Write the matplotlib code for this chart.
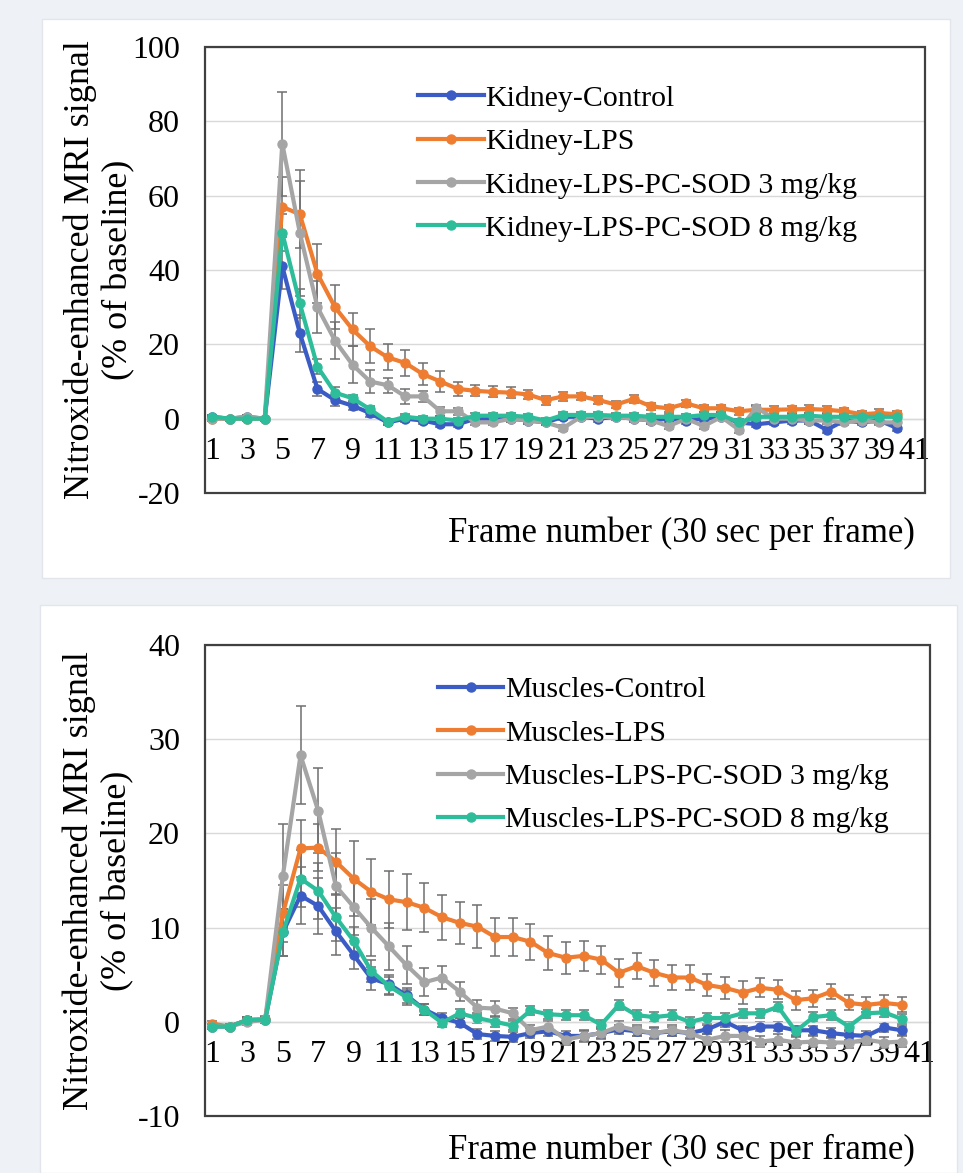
import numpy as np
import matplotlib
matplotlib.use("Agg")
import matplotlib.pyplot as plt
from matplotlib.patches import Rectangle

plt.rcParams['font.family'] = ['Liberation Serif', 'DejaVu Serif']
plt.rcParams['axes.unicode_minus'] = False

frames = list(range(1, 41))

# Kidney panel (% of baseline), one value per frame
kidney_names = ['Kidney-Control', 'Kidney-LPS', 'Kidney-LPS-PC-SOD 3 mg/kg', 'Kidney-LPS-PC-SOD 8 mg/kg']
k_ctrl = [0.5, 0, 0.5, 0, 41, 23, 8, 5, 3.5, 1.5, -1, 0, -0.5, -1.5, -1.5, 0, 0, 0, -0.5, -1,
          0.5, 0.5, 0, 0.5, 0, -0.5, 0, -0.5, 0, 0.5, -1, -1.5, -1, -0.5, -0.5, -3, -0.5, -1, -0.5, -2.5]
k_lps = [0, 0, 0, 0, 57, 55, 39, 30, 24, 19.5, 16.5, 15, 12, 10, 8, 7.5, 7.2, 7, 6.5, 5,
         6, 6, 5, 3.8, 5.3, 3.3, 2.8, 4.1, 2.8, 2.8, 2, 2.4, 2.4, 2.5, 2.6, 2.4, 2, 1.2, 1.5, 1.2]
k_pc3 = [0, 0, 0.5, 0, 74, 50, 30, 21, 14.5, 10, 9, 6, 6, 2, 2, -1, -1, 0, -0.5, -1,
         -2.5, 0.5, 0.5, 0.5, 0, -0.5, -2, 0, -2, 0.5, -3, 3, 0, 0, -0.5, -0.5, -1, -0.5, -1, -1]
k_pc8 = [0.5, 0, 0, 0, 50, 31, 14, 7, 5.5, 2.5, -0.8, 0.5, 0, 0, -0.5, 0.8, 0.8, 0.8, 0.5, -0.5,
         1, 1, 1, 0.8, 0.8, 0.5, 0.5, 0.5, 1, 1, -1, 0.5, 0.5, 0.5, 0.8, 0.5, 0.5, 0.5, 0.5, 0.5]
k_ctrl_err = [0.5, 0.5, 0.5, 0.5, 6, 5, 2, 1.5, 1.2, 1, 0.8, 0.8, 0.8, 0.8, 0.8, 0.8, 0.8, 0.8, 0.8, 0.8,
              0.8, 0.8, 0.8, 0.8, 0.8, 0.8, 0.8, 0.8, 0.8, 0.8, 0.8, 0.8, 0.8, 0.8, 0.8, 0.8, 0.8, 0.8, 0.8, 0.8]
k_lps_err = [0.5, 0.5, 0.5, 0.5, 8, 9, 8, 6, 4.5, 4.5, 3.5, 3.5, 3, 2.7, 2, 1.5, 1.5, 1.5, 1.2, 1.2,
             1.2, 1, 1, 1, 1, 1, 1, 1, 1, 1, 1, 1, 1, 1, 1, 1, 1, 1, 1, 1]
k_pc3_err = [0.5, 0.5, 0.5, 0.5, 14, 17, 7, 5, 5, 3, 2, 2, 1.5, 1.2, 1, 0.8, 0.8, 0.8, 0.8, 0.8,
             0.8, 0.8, 0.8, 0.8, 0.8, 0.8, 0.8, 0.8, 0.8, 0.8, 0.8, 0.8, 0.8, 0.8, 0.8, 0.8, 0.8, 0.8, 0.8, 0.8]
k_pc8_err = [0.5, 0.5, 0.5, 0.5, 5, 4, 2, 1.5, 1, 0.8, 0.8, 0.8, 0.8, 0.8, 0.8, 0.8, 0.8, 0.8, 0.8, 0.8,
             0.8, 0.8, 0.8, 0.8, 0.8, 0.8, 0.8, 0.8, 0.8, 0.8, 0.8, 0.8, 0.8, 0.8, 0.8, 0.8, 0.8, 0.8, 0.8, 0.8]

# Muscles panel
muscle_names = ['Muscles-Control', 'Muscles-LPS', 'Muscles-LPS-PC-SOD 3 mg/kg', 'Muscles-LPS-PC-SOD 8 mg/kg']
m_ctrl = [-0.5, -0.5, 0.2, 0.2, 9.5, 13.4, 12.3, 9.6, 7.1, 4.6, 4, 2.8, 1.3, 0.4, -0.1, -1.3, -1.5, -1.6, -1.2, -1.0,
          -1.5, -1.5, -1.2, -0.8, -1.0, -1.2, -1.0, -1.2, -0.8, 0.0, -0.9, -0.5, -0.5, -0.9, -0.9, -1.2, -1.4, -1.5, -0.6, -0.9]
m_lps = [-0.2, -0.5, 0.2, 0.3, 11.5, 18.4, 18.5, 17, 15.2, 13.8, 13, 12.7, 12.1, 11.1, 10.5, 10.1, 9, 9, 8.5, 7.3,
         6.8, 7.0, 6.6, 5.2, 5.9, 5.2, 4.7, 4.7, 3.9, 3.6, 3.1, 3.6, 3.4, 2.3, 2.5, 3.2, 2.0, 1.8, 2.0, 1.8]
m_pc3 = [-0.5, -0.5, 0, 0.2, 15.5, 28.3, 22.4, 14.4, 12.2, 10, 8, 6, 4.2, 4.7, 3.2, 1.5, 1.4, 0.9, -0.9, -0.5,
         -1.9, -1.5, -1.2, -0.5, -0.9, -1.2, -0.9, -1.2, -1.9, -1.5, -1.5, -2.1, -1.9, -2.2, -2.1, -2.2, -2.2, -1.9, -2.2, -2.1]
m_pc8 = [-0.5, -0.5, 0.2, 0.2, 9.5, 15.2, 13.9, 11.1, 8.6, 5.4, 3.8, 2.6, 1.3, -0.1, 0.9, 0.4, 0, -0.4, 1.2, 0.8,
         0.7, 0.7, -0.3, 1.8, 0.7, 0.5, 0.7, 0, 0.4, 0.4, 0.9, 0.9, 1.6, -1.0, 0.5, 0.7, -0.5, 0.9, 1.0, 0.3]
m_ctrl_err = [0.3, 0.3, 0.3, 0.3, 2.5, 3, 3, 2.5, 1.5, 1.2, 1, 0.8, 0.6, 0.5, 0.5, 0.5, 0.5, 0.5, 0.5, 0.5,
              0.5, 0.5, 0.5, 0.5, 0.5, 0.5, 0.5, 0.5, 0.5, 0.5, 0.5, 0.5, 0.5, 0.5, 0.5, 0.5, 0.5, 0.5, 0.5, 0.5]
m_lps_err = [0.3, 0.3, 0.3, 0.3, 3, 3, 2.5, 3.5, 4, 3.5, 3, 3, 2.6, 2.4, 2.2, 2.3, 2, 2, 1.9, 1.8,
             1.7, 1.6, 1.5, 1.5, 1.4, 1.4, 1.3, 1.3, 1.2, 1.2, 1.2, 1, 1, 1, 0.9, 0.8, 0.8, 0.8, 0.8, 0.8]
m_pc3_err = [0.3, 0.3, 0.3, 0.3, 5.5, 5.2, 4.5, 3.5, 3, 3, 2.5, 2, 1.5, 1.2, 1, 0.8, 0.8, 0.6, 0.6, 0.6,
             0.6, 0.6, 0.6, 0.6, 0.6, 0.6, 0.6, 0.6, 0.6, 0.6, 0.6, 0.6, 0.6, 0.6, 0.6, 0.6, 0.6, 0.6, 0.6, 0.6]
m_pc8_err = [0.3, 0.3, 0.3, 0.3, 2.5, 3, 3, 2.5, 1.5, 1.2, 1, 0.8, 0.6, 0.5, 0.5, 0.5, 0.5, 0.5, 0.5, 0.5,
             0.5, 0.5, 0.5, 0.5, 0.5, 0.5, 0.5, 0.5, 0.5, 0.5, 0.5, 0.5, 0.5, 0.5, 0.5, 0.5, 0.5, 0.5, 0.5, 0.5]

colors = ['#3b5cc4', '#ee7d31', '#a5a5a5', '#2dbd9a']
ylabel = 'Nitroxide-enhanced MRI signal\n(% of baseline)'
xlabel = 'Frame number (30 sec per frame)'
xtick_pos = list(range(1, 42, 2))


def draw_panel(ax, series, errs, names, ylim, ystep, leg_xy, xlab_xy):
    for ys, es, c, n in zip(series, errs, colors, names):
        ax.errorbar(frames, ys, yerr=es, fmt='none', ecolor='#6f6f6f', elinewidth=1.1,
                    capsize=3.5, capthick=1.1, zorder=2)
        ax.plot(frames, ys, '-o', color=c, lw=3, ms=6.5, label=n, zorder=3)
    ax.set_xlim(0.6, 41.6)
    ax.set_ylim(*ylim)
    ax.set_yticks(np.arange(ylim[0], ylim[1] + 1, ystep))
    ax.set_xticks(xtick_pos)
    ax.set_xticklabels([str(t) for t in xtick_pos])
    for s in ['top', 'left', 'right']:
        ax.spines[s].set_visible(False)
    ax.spines['bottom'].set_position(('data', 0))
    ax.spines['bottom'].set_color('#d9d9d9')
    ax.spines['bottom'].set_linewidth(1)
    ax.tick_params(axis='x', length=0, pad=13, labelsize=23)
    ax.tick_params(axis='y', length=0, pad=18, labelsize=23)
    ax.yaxis.grid(True, color='#d9d9d9', lw=1)
    ax.set_axisbelow(True)
    ax.add_patch(Rectangle((0, 0), 1, 1, transform=ax.transAxes, fill=False,
                           ec='#404040', lw=1.6, clip_on=False, zorder=6))
    ax.text(-0.147, 0.5, ylabel, transform=ax.transAxes, rotation=90, ha='center',
            va='center', multialignment='center', fontsize=26, linespacing=1.2)
    ax.text(xlab_xy[0], xlab_xy[1], xlabel, transform=ax.transAxes, ha='right',
            va='center', fontsize=25)
    ax.legend(loc='upper left', bbox_to_anchor=leg_xy, frameon=False, fontsize=21.5,
              handlelength=2.2, handletextpad=0.05, labelspacing=0.55,
              borderpad=0, borderaxespad=0)


fig = plt.figure(figsize=(9.63, 11.73), dpi=100, facecolor='#eef2f6')
fig.patches.append(Rectangle((0.0436, 0.507), 0.943, 0.477, transform=fig.transFigure,
                             fc='white', ec='#e2e6ec', lw=1, zorder=-5))
fig.patches.append(Rectangle((0.0415, 0.0), 0.952, 0.484, transform=fig.transFigure,
                             fc='white', ec='#e2e6ec', lw=1, zorder=-5))

ax1 = fig.add_axes([0.2129, 0.5797, 0.7477, 0.3802])
draw_panel(ax1, [k_ctrl, k_lps, k_pc3, k_pc8], [k_ctrl_err, k_lps_err, k_pc3_err, k_pc8_err],
           kidney_names, (-20, 100), 20, (0.296, 0.915), (0.986, -0.09))

ax2 = fig.add_axes([0.2129, 0.0486, 0.753, 0.4015])
draw_panel(ax2, [m_ctrl, m_lps, m_pc3, m_pc8], [m_ctrl_err, m_lps_err, m_pc3_err, m_pc8_err],
           muscle_names, (-10, 40), 10, (0.321, 0.933), (0.979, -0.072))

fig.savefig('out.png', dpi=100, facecolor=fig.get_facecolor())
